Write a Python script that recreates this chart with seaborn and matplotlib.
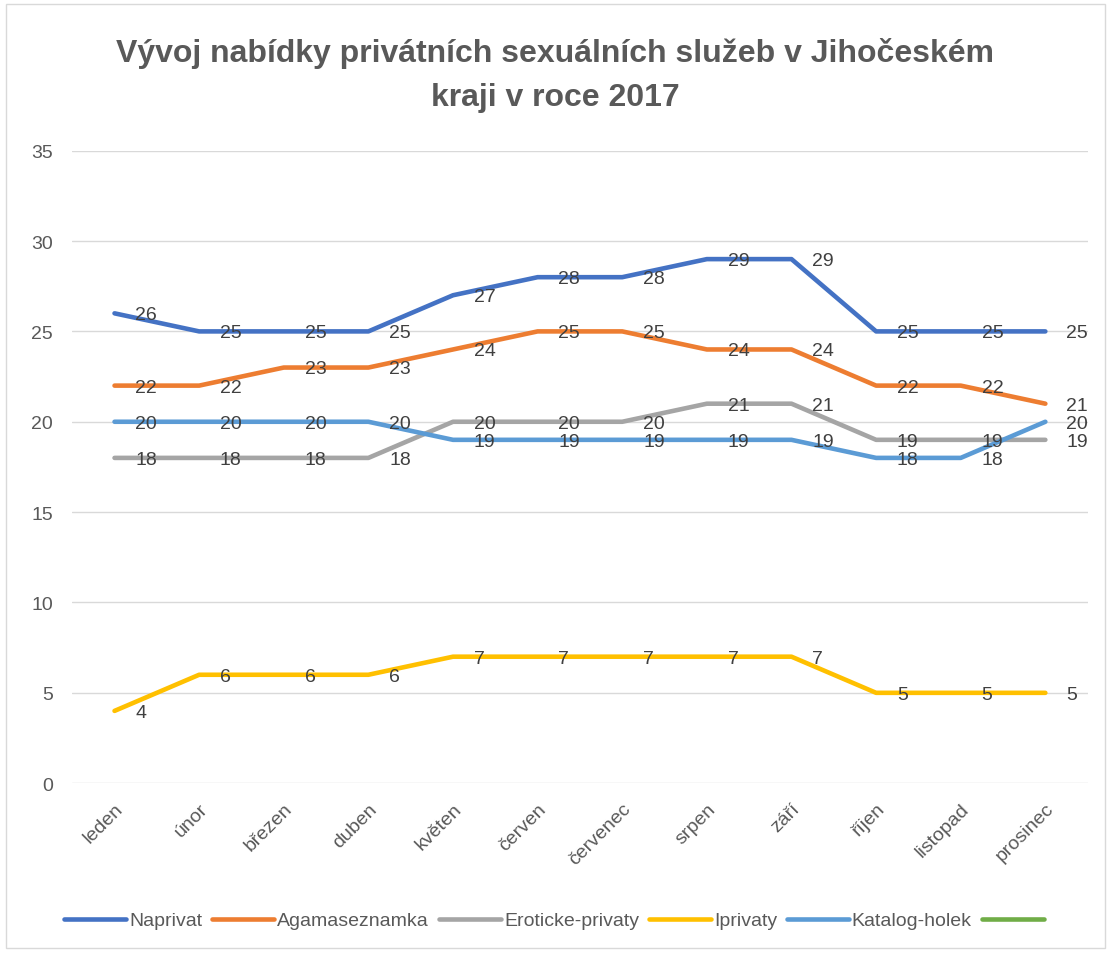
import pandas as pd
import matplotlib.pyplot as plt
import seaborn as sns
from matplotlib.lines import Line2D
from matplotlib.patches import Rectangle

months = ["leden", "únor", "březen", "duben", "květen", "červen",
          "červenec", "srpen", "září", "říjen", "listopad", "prosinec"]

naprivat = [26, 25, 25, 25, 27, 28, 28, 29, 29, 25, 25, 25]
agamaseznamka = [22, 22, 23, 23, 24, 25, 25, 24, 24, 22, 22, 21]
eroticke_privaty = [18, 18, 18, 18, 20, 20, 20, 21, 21, 19, 19, 19]
iprivaty = [4, 6, 6, 6, 7, 7, 7, 7, 7, 5, 5, 5]
katalog_holek = [20, 20, 20, 20, 19, 19, 19, 19, 19, 18, 18, 20]

series_names = ["Naprivat", "Agamaseznamka", "Eroticke-privaty", "Iprivaty", "Katalog-holek"]
series_values = [naprivat, agamaseznamka, eroticke_privaty, iprivaty, katalog_holek]
colors = ["#4472C4", "#ED7D31", "#A5A5A5", "#FFC000", "#5B9BD5"]
extra_color = "#70AD47"  # empty sixth series shown in legend only

rows = []
for name, vals in zip(series_names, series_values):
    for i, v in enumerate(vals):
        rows.append({"month": i, "label": months[i], "series": name, "value": v})
df = pd.DataFrame(rows)

sns.set_style("white")
plt.rcParams["font.family"] = ["Liberation Sans", "DejaVu Sans"]
text_color = "#595959"

fig = plt.figure(figsize=(11.11, 9.54), dpi=100)
ax = fig.add_axes([0.065, 0.178, 0.914, 0.663])

sns.lineplot(data=df, x="month", y="value", hue="series", hue_order=series_names,
             palette=colors, linewidth=3.3, ax=ax, legend=False, sort=False)

# data labels to the right of each point
for name, vals in zip(series_names, series_values):
    for i, v in enumerate(vals):
        ax.annotate(str(v), (i, v), xytext=(15, -1), textcoords="offset points",
                    ha="left", va="center", fontsize=14, color="#404040")

ax.set_xlim(-0.5, 11.5)
ax.set_ylim(0, 35)
ax.set_yticks(range(0, 36, 5))
ax.set_xticks(range(12))
ax.set_xticklabels(months, rotation=45, ha="right", rotation_mode="anchor",
                   fontsize=14, color=text_color)
ax.tick_params(axis="y", labelsize=14, labelcolor=text_color, length=0, pad=14)
ax.tick_params(axis="x", length=0, pad=12)
ax.yaxis.grid(True, color="#D9D9D9", linewidth=1)
ax.set_axisbelow(True)
for s in ax.spines.values():
    s.set_visible(False)
ax.set_xlabel("")
ax.set_ylabel("")

fig.text(0.5, 0.96, "Vývoj nabídky privátních sexuálních služeb v Jihočeském\nkraji v roce 2017",
         ha="center", va="top", fontsize=23, fontweight="bold", color=text_color,
         linespacing=1.6)

handles = [Line2D([0], [0], color=c, linewidth=3.3) for c in colors]
handles.append(Line2D([0], [0], color=extra_color, linewidth=3.3))
labels = series_names + [""]
fig.legend(handles, labels, loc="center", bbox_to_anchor=(0.5, 0.034), ncol=6,
           frameon=False, fontsize=14, labelcolor=text_color, handlelength=3.2,
           handletextpad=0.15, columnspacing=0.5)

fig.patches.append(Rectangle((0.005, 0.005), 0.99, 0.99, transform=fig.transFigure,
                             fill=False, edgecolor="#D9D9D9", linewidth=1))

fig.savefig("out.png", dpi=100)
